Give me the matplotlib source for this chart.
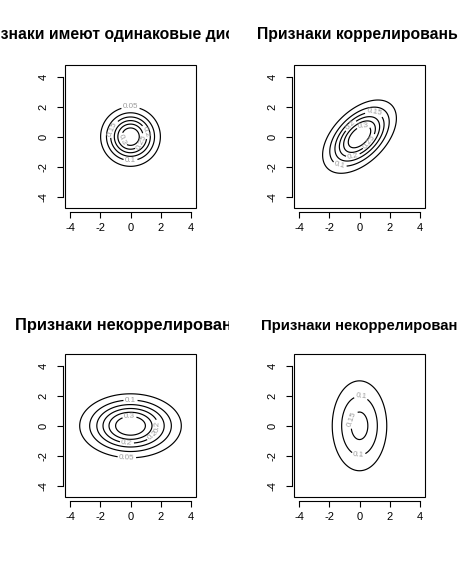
#!/usr/bin/env python3
"""Contours of four bivariate normal shapes, R base-graphics look."""
import numpy as np
import matplotlib
matplotlib.use("Agg")
import matplotlib.pyplot as plt
from matplotlib.patches import Rectangle
from matplotlib.transforms import Bbox, TransformedBbox

plt.rcParams["font.family"] = ["Liberation Sans", "DejaVu Sans"]

W, H = 458, 579

TITLES = [
    "Признаки имеют одинаковые дисперсии",
    "Признаки коррелированы",
    "Признаки некоррелированы, дисперсия X больше",
    "Признаки некоррелированы, дисперсия Y больше",
]
# density shape: peak height, sd of x and y, correlation
PEAK = [0.355, 0.36, 0.355, 0.168]
SD_X = [1.0, 1.23, 1.7, 1.16]
SD_Y = [1.0, 1.23, 1.08, 1.93]
RHO = [0.0, 0.5, 0.0, 0.0]
LEVELS = [
    [0.05, 0.1, 0.15, 0.2, 0.25, 0.3],
    [0.05, 0.1, 0.15, 0.2, 0.25, 0.3],
    [0.05, 0.1, 0.15, 0.2, 0.25, 0.3],
    [0.05, 0.1, 0.15],
]
TICKS = [-4, -2, 0, 2, 4]

# label anchor spots (data units), like R's contour labels
LABEL_AT = [
    [(0, 1.95), (0, -1.55), (-1.15, 0.5), (1.0, 0.3), (0.8, -0.4), (-0.55, -0.2)],
    [(-1.35, -2.05), (1.0, 1.75), (-0.45, -1.2), (-0.56, 0.7), (0.6, -0.3), (0.3, 0.5)],
    [(-0.24, -2.1), (0, 1.67), (1.87, -0.05), (-0.24, -1.15), (1.53, -0.7), (-0.07, 0.62)],
    [(0.07, 1.73), (-0.09, 0.3), (-0.09, -2.27)],
]

# panel boxes in pixels (left, top, right, bottom)
BOXES = [(65.3, 65, 195.7, 208.3), (294.3, 65, 424.7, 208.3),
         (65.3, 354.3, 195.7, 497.3), (294.3, 354.3, 424.7, 497.3)]
TITLE_Y = [39, 39, 330, 330]
# None = centred over the panel, else left edge in pixels
TITLE_X = [None, None, 15, 260.7]
TITLE_SIZE = [11.3, 11.3, 11.8, 10.7]


def density(x, y, k):
    sx, sy, r = SD_X[k], SD_Y[k], RHO[k]
    q = (x**2 / sx**2 - 2 * r * x * y / (sx * sy) + y**2 / sy**2) / (1 - r**2)
    return PEAK[k] * np.exp(-0.5 * q)


fig = plt.figure(figsize=(W / 100, H / 100), dpi=100)
g = np.linspace(-4.3, 4.3, 301)
X, Y = np.meshgrid(g, g)

for k in range(4):
    l, t, r, b = BOXES[k]
    ax = fig.add_axes([l / W, 1 - b / H, (r - l) / W, (b - t) / H])
    ax.set_xlim(-4.32, 4.32)
    ax.set_ylim(-4.78, 4.78)

    cs = ax.contour(X, Y, density(X, Y, k), levels=LEVELS[k],
                    colors="black", linewidths=0.85)
    ax.clabel(cs, fmt="%g", fontsize=5.8, colors="#9a9a9a", inline=True,
              inline_spacing=1.5, manual=LABEL_AT[k])

    for side in ("top", "right"):
        ax.spines[side].set_visible(False)
    ax.spines["bottom"].set_position(("outward", 2.5))
    ax.spines["left"].set_position(("outward", 2.0))
    ax.spines["bottom"].set_bounds(-4, 4)
    ax.spines["left"].set_bounds(-4, 4)
    for side in ("bottom", "left"):
        ax.spines[side].set_linewidth(0.8)
    ax.add_patch(Rectangle((0, 0), 1, 1, transform=ax.transAxes, fill=False,
                           lw=0.8, ec="black", clip_on=False))
    ax.set_xticks(TICKS)
    ax.set_yticks(TICKS)
    ax.set_xticklabels([str(v) for v in TICKS])
    ax.set_yticklabels([str(v) for v in TICKS], rotation=90, va="center")
    ax.tick_params(length=4.3, width=0.8, labelsize=8, pad=4.0)
    ax.tick_params(axis="y", pad=5.5)

    # title clipped to its quarter of the figure, as R does
    if TITLE_X[k] is None:
        tx, ha = (l + r) / 2 / W, "center"
    else:
        tx, ha = TITLE_X[k] / W, "left"
    txt = fig.text(tx, 1 - TITLE_Y[k] / H, TITLES[k], ha=ha, va="baseline",
                   fontsize=TITLE_SIZE[k], fontweight="bold")
    col = k % 2
    clip = Bbox([[0.5 * col, 0], [0.5 * col + 0.5, 1]])
    txt.set_clip_box(TransformedBbox(clip, fig.transFigure))
    txt.set_clip_on(True)

fig.savefig("out.png", dpi=100)
plt.close(fig)
